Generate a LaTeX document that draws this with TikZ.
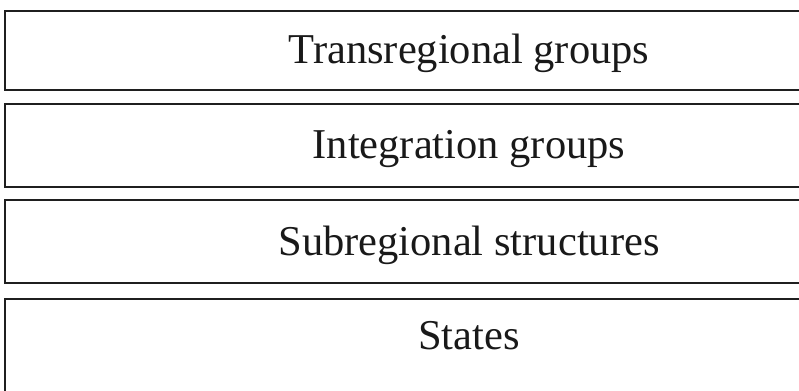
\documentclass[tikz,border=0pt]{standalone}
\usepackage{fontspec}
\setmainfont{Liberation Serif}
\begin{document}
\begin{tikzpicture}[x=1bp,y=-1bp,
  layerbox/.style={draw=black!88,line width=2bp},
  layertext/.style={anchor=base,inner sep=0pt,font=\fontsize{42.5bp}{50bp}\selectfont,text=black!90}]
\useasboundingbox (0,0) rectangle (799,390);
\clip (0,0) rectangle (799,390);
\draw[layerbox] (5,11) rectangle (830,90);
\draw[layerbox] (5,104) rectangle (830,187);
\draw[layerbox] (5,200) rectangle (830,283);
\draw[layerbox] (5,299) rectangle (830,420);
\node[layertext] (trans) at (469,63) {Transregional groups};
\node[layertext] (integ) at (469,158) {Integration groups};
\node[layertext] (subreg) at (469,255) {Subregional structures};
\node[layertext] (states) at (469,349) {States};
\end{tikzpicture}
\end{document}
